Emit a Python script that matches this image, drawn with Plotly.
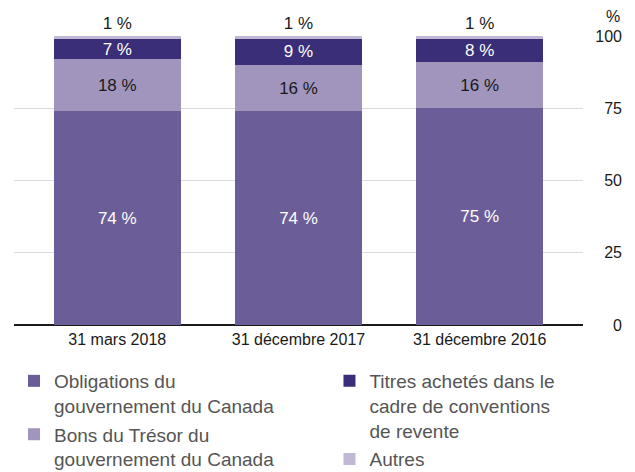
import plotly.graph_objects as go

# dates and shares (%) of each asset class
categories = ['31 mars 2018', '31 décembre 2017', '31 décembre 2016']
obligations = [74, 74, 75]
bons = [18, 16, 16]
titres = [7, 9, 8]
autres = [1, 1, 1]
y_ticks = [0, 25, 50, 75, 100]

names = {
    'obl': 'Obligations du<br>gouvernement du Canada',
    'bons': 'Bons du Trésor du<br>gouvernement du Canada',
    'titres': 'Titres achetés dans le<br>cadre de conventions<br>de revente',
    'autres': 'Autres',
}

FONT = 'Liberation Sans, Arial, sans-serif'


def pct(vals):
    return [f'{v} %' for v in vals]


fig = go.Figure()

fig.add_bar(x=categories, y=obligations, name=names['obl'],
            marker_color='#6b5e98', text=pct(obligations),
            textposition='inside', insidetextanchor='middle',
            textfont=dict(color='white', size=17), constraintext='none',
            legend='legend', legendgroup='a')
fig.add_bar(x=categories, y=bons, name=names['bons'],
            marker_color='#a195bd', text=pct(bons),
            textposition='inside', insidetextanchor='middle',
            textfont=dict(color='#1a1a1a', size=17), constraintext='none',
            legend='legend', legendgroup='b')
fig.add_bar(x=categories, y=titres, name=names['titres'],
            marker_color='#3a2e78', text=pct(titres),
            textposition='inside', insidetextanchor='middle',
            textfont=dict(color='white', size=17), constraintext='none',
            legend='legend2', legendgroup='c')
fig.add_bar(x=categories, y=autres, name=names['autres'],
            marker_color='#c1b8d5', text=pct(autres),
            textposition='outside', cliponaxis=False,
            textfont=dict(color='#1a1a1a', size=17), constraintext='none',
            legend='legend2', legendgroup='d')

fig.update_traces(marker_line_width=0, hoverinfo='skip')

legend_style = dict(
    font=dict(family=FONT, size=19, color='#555555'),
    orientation='v', valign='top', xanchor='left', yanchor='top',
    traceorder='grouped', tracegroupgap=1, itemwidth=30,
    bgcolor='rgba(0,0,0,0)',
)

# the page body adds an 8px offset, so the figure is 8px smaller than the window
fig.update_layout(
    width=627, height=464,
    margin=dict(l=6, r=0, t=28, b=147, autoexpand=False),
    paper_bgcolor='white', plot_bgcolor='white',
    font=dict(family=FONT, size=16, color='#1a1a1a'),
    barmode='stack', bargap=0.30,
    showlegend=True,
    legend=dict(x=0.0, y=-0.128, **legend_style),
    legend2=dict(x=0.508, y=-0.128, **legend_style),
    xaxis=dict(
        domain=[0, 569 / 621], range=[-0.57, 2.57],
        showgrid=False, zeroline=False, showline=False, ticks='',
        tickfont=dict(size=16, color='#1a1a1a'), automargin=False,
        ticklabelstandoff=3,
    ),
    yaxis=dict(
        range=[0, 100], tickvals=y_ticks,
        anchor='free', side='left', position=0.979,
        showgrid=True, gridcolor='#d9d9d9', gridwidth=1,
        zeroline=True, zerolinecolor='#1a1a1a', zerolinewidth=1.5,
        showline=False, ticks='', automargin=False,
        tickfont=dict(size=16, color='#1a1a1a'),
    ),
    annotations=[dict(text='%', xref='paper', yref='paper',
                      x=0.979, y=1.0, xanchor='right', yanchor='bottom',
                      xshift=0, yshift=9, showarrow=False,
                      font=dict(size=16, color='#1a1a1a'))],
)

fig.write_html('out.html')
